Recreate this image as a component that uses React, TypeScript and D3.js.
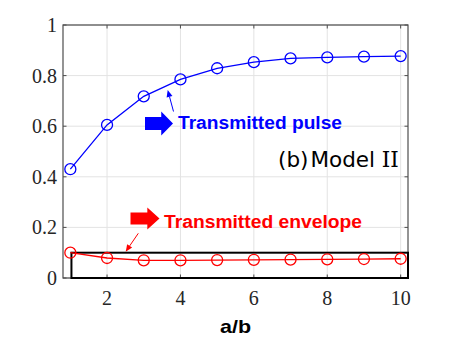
import React, { useEffect, useRef } from "react";
import * as d3 from "d3";

const ratios = [1, 2, 3, 4, 5, 6, 7, 8, 9, 10];
const pulse = [0.43, 0.605, 0.718, 0.785, 0.829, 0.853, 0.868, 0.872, 0.875, 0.877];
const envelope = [0.1, 0.079, 0.07, 0.07, 0.071, 0.072, 0.073, 0.074, 0.075, 0.076];
const xTicks = [2, 4, 6, 8, 10];
const yTicks = [0, 0.2, 0.4, 0.6, 0.8, 1];

const W = 450;
const H = 338;

const App = () => {
  const ref = useRef<SVGSVGElement>(null);

  useEffect(() => {
    const svg = d3.select(ref.current);
    svg.selectAll("*").remove();

    const x = d3.scaleLinear().domain([0.8, 10.2]).range([63, 408]);
    const y = d3.scaleLinear().domain([0, 1]).range([278, 25]);
    const axisColor = "#4d4d4d";

    // grid
    const grid = svg.append("g").attr("stroke", "#e3e3e3").attr("stroke-width", 1);
    grid.selectAll("line.gx").data(xTicks).enter().append("line")
      .attr("x1", (d) => x(d)).attr("x2", (d) => x(d))
      .attr("y1", y(0)).attr("y2", y(1));
    grid.selectAll("line.gy").data(yTicks).enter().append("line")
      .attr("x1", x.range()[0]).attr("x2", x.range()[1])
      .attr("y1", (d) => y(d)).attr("y2", (d) => y(d));

    // box
    svg.append("rect")
      .attr("x", x.range()[0]).attr("y", y(1))
      .attr("width", x.range()[1] - x.range()[0])
      .attr("height", y(0) - y(1))
      .attr("fill", "none").attr("stroke", axisColor).attr("stroke-width", 1.2);

    // ticks inward
    const tk = svg.append("g").attr("stroke", axisColor).attr("stroke-width", 1);
    xTicks.forEach((t) => {
      tk.append("line").attr("x1", x(t)).attr("x2", x(t)).attr("y1", y(0)).attr("y2", y(0) - 3.5);
      tk.append("line").attr("x1", x(t)).attr("x2", x(t)).attr("y1", y(1)).attr("y2", y(1) + 3.5);
    });
    yTicks.forEach((t) => {
      tk.append("line").attr("x1", x.range()[0]).attr("x2", x.range()[0] + 3.5).attr("y1", y(t)).attr("y2", y(t));
      tk.append("line").attr("x1", x.range()[1]).attr("x2", x.range()[1] - 3.5).attr("y1", y(t)).attr("y2", y(t));
    });

    // tick labels
    svg.append("g").selectAll("text").data(xTicks).enter().append("text")
      .attr("x", (d) => x(d)).attr("y", 305)
      .attr("text-anchor", "middle")
      .attr("font-family", "Liberation Serif").attr("font-size", 20)
      .attr("fill", "#262626")
      .text((d) => d);
    svg.append("g").selectAll("text").data(yTicks).enter().append("text")
      .attr("x", 57).attr("y", (d) => y(d) + 7)
      .attr("text-anchor", "end")
      .attr("font-family", "Liberation Serif").attr("font-size", 20)
      .attr("fill", "#262626")
      .text((d) => d3.format("~g")(d));

    svg.append("text")
      .attr("x", 220).attr("y", 333)
      .attr("font-family", "Liberation Sans").attr("font-weight", "bold")
      .attr("font-size", 19).attr("fill", "#000")
      .attr("textLength", 31).attr("lengthAdjust", "spacingAndGlyphs")
      .text("a/b");

    // highlight box
    svg.append("rect")
      .attr("x", x(1.03)).attr("y", y(0.1))
      .attr("width", x(10.2) - x(1.03))
      .attr("height", y(0) - y(0.1))
      .attr("fill", "none").attr("stroke", "#000").attr("stroke-width", 2);

    const series = [
      { vals: pulse, color: "#0000ff" },
      { vals: envelope, color: "#ff0000" },
    ];
    const line = d3.line<number>().x((_, i) => x(ratios[i])).y((d) => y(d));
    series.forEach((s) => {
      svg.append("path").datum(s.vals).attr("d", line)
        .attr("fill", "none").attr("stroke", s.color).attr("stroke-width", 1.3);
      svg.append("g").selectAll("circle").data(s.vals).enter().append("circle")
        .attr("cx", (_, i) => x(ratios[i])).attr("cy", (d) => y(d)).attr("r", 5.5)
        .attr("fill", "none").attr("stroke", s.color).attr("stroke-width", 1.3);
    });

    // annotations
    const blockArrow = (x0: number, yc: number, len: number, h: number, color: string) => {
      const shaft = h * 0.55;
      const headLen = len * 0.42;
      const p = [
        [x0, yc - shaft / 2], [x0 + len - headLen, yc - shaft / 2], [x0 + len - headLen, yc - h / 2],
        [x0 + len, yc], [x0 + len - headLen, yc + h / 2], [x0 + len - headLen, yc + shaft / 2],
        [x0, yc + shaft / 2],
      ];
      svg.append("polygon").attr("points", p.map((q) => q.join(",")).join(" ")).attr("fill", color);
    };
    const thinArrow = (x1: number, y1: number, x2: number, y2: number, color: string) => {
      const ang = Math.atan2(y2 - y1, x2 - x1);
      const hl = 7, hw = 3;
      const bx = x2 - hl * Math.cos(ang), by = y2 - hl * Math.sin(ang);
      svg.append("line").attr("x1", x1).attr("y1", y1).attr("x2", bx).attr("y2", by)
        .attr("stroke", color).attr("stroke-width", 1);
      const px = -Math.sin(ang) * hw, py = Math.cos(ang) * hw;
      svg.append("polygon")
        .attr("points", `${x2},${y2} ${bx + px},${by + py} ${bx - px},${by - py}`)
        .attr("fill", color);
    };

    blockArrow(145, 123.5, 28, 24, "#0000ff");
    svg.append("text").attr("x", 178).attr("y", 129)
      .attr("font-family", "Liberation Sans").attr("font-weight", "bold")
      .attr("font-size", 18).attr("fill", "#0000ff")
      .attr("textLength", 164).attr("lengthAdjust", "spacingAndGlyphs")
      .text("Transmitted pulse");
    thinArrow(173.5, 111.5, 167.7, 90, "#0000ff");

    blockArrow(130.5, 218.5, 29, 22, "#ff0000");
    svg.append("text").attr("x", 164).attr("y", 227.5)
      .attr("font-family", "Liberation Sans").attr("font-weight", "bold")
      .attr("font-size", 18).attr("fill", "#ff0000")
      .attr("textLength", 198).attr("lengthAdjust", "spacingAndGlyphs")
      .text("Transmitted envelope");
    thinArrow(138.3, 233.3, 125.7, 251.7, "#ff0000");

    const model = svg.append("text").attr("x", 278).attr("y", 166.5)
      .attr("font-size", 21.5).attr("fill", "#000");
    model.append("tspan").attr("font-family", "DejaVu Sans").text("(b)");
    model.append("tspan").attr("dx", 2).attr("font-family", "DejaVu Sans").text("Model ");
    model.append("tspan").attr("font-family", "DejaVu Serif").text("II");
  }, []);

  return (
    <svg ref={ref} width={W} height={H}
      style={{ position: "absolute", left: 0, top: 0, background: "#fff" }} />
  );
};

export default App;
